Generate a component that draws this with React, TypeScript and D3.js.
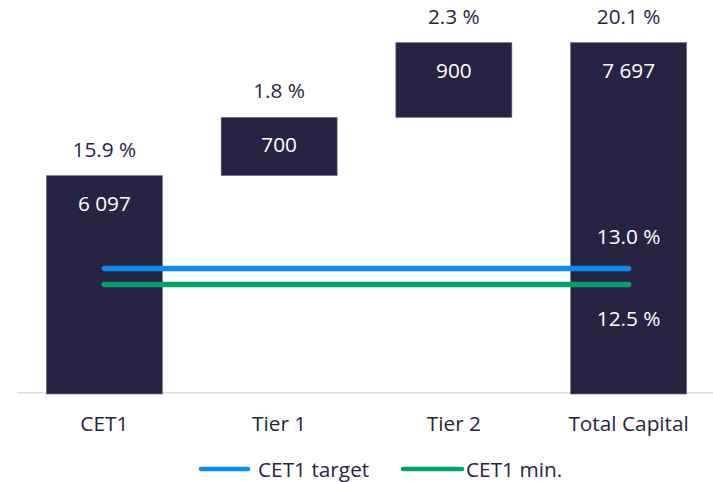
import React, { useEffect, useRef } from 'react'
import * as d3 from 'd3'

const categories = ['CET1', 'Tier 1', 'Tier 2', 'Total Capital']
const amounts = [6097, 700, 900, 7697]
const isTotal = [true, false, false, true]
const pctLabels = ['15.9 %', '1.8 %', '2.3 %', '20.1 %']
const amountLabels = ['6 097', '700', '900', '7 697']
const totalPct = 20.1
const refLines = [
  { name: 'CET1 target', pct: 13.0, label: '13.0 %', color: '#0a8cf5' },
  { name: 'CET1 min.', pct: 12.5, label: '12.5 %', color: '#00a46a' },
]

const W = 713, H = 482
const DARK = '#272443'
const FONT = '"Open Sans", "Noto Sans", sans-serif'
const FS = 20.8

export default function App() {
  const svgRef = useRef<SVGSVGElement>(null)

  useEffect(() => {
    const svg = d3.select(svgRef.current).attr('width', W).attr('height', H)
    svg.selectAll('*').remove()

    // waterfall steps
    let run = 0
    const steps = amounts.map((v, i) => {
      const start = isTotal[i] ? 0 : run
      const end = isTotal[i] ? v : run + v
      run = end
      return { cat: categories[i], start, end, pct: pctLabels[i], amt: amountLabels[i] }
    })

    const x = d3.scaleBand().domain(categories).range([17, 716]).paddingInner(0.336).paddingOuter(0.168)
    const y = d3.scaleLinear().domain([3470, 8000]).range([394, 17.4])
    const base = y.domain()[0]

    // axis line
    svg.append('line').attr('x1', 17).attr('x2', W).attr('y1', 392.7).attr('y2', 392.7)
      .attr('stroke', '#dcdbe8').attr('stroke-width', 1.5)

    const g = svg.append('g').attr('font-family', FONT).attr('font-size', FS)
    g.selectAll('rect').data(steps).join('rect')
      .attr('x', d => x(d.cat)!)
      .attr('width', x.bandwidth())
      .attr('y', d => y(d.end))
      .attr('height', d => y(Math.max(d.start, base)) - y(d.end))
      .attr('fill', DARK)
      .attr('stroke', '#6e6c86').attr('stroke-width', 0.6)

    g.selectAll('text.pct').data(steps).join('text').attr('class', 'pct')
      .attr('x', d => x(d.cat)! + x.bandwidth() / 2).attr('y', d => y(d.end) - 19)
      .attr('text-anchor', 'middle').attr('fill', DARK)
      .text(d => d.pct)

    g.selectAll('text.amt').data(steps).join('text').attr('class', 'amt')
      .attr('x', d => x(d.cat)! + x.bandwidth() / 2).attr('y', d => y(d.end) + 35)
      .attr('text-anchor', 'middle').attr('fill', '#ffffff')
      .text(d => d.amt)

    // category labels
    g.selectAll('text.cat').data(categories).join('text').attr('class', 'cat')
      .attr('x', d => x(d)! + x.bandwidth() / 2).attr('y', 431)
      .attr('text-anchor', 'middle').attr('fill', DARK)
      .text(d => d)

    // CET1 requirement lines, as share of total ratio
    const rwa = amounts[3] / (totalPct / 100)
    const x0 = x(categories[0])! + x.bandwidth() / 2
    const x1 = x(categories[3])! + x.bandwidth() / 2
    refLines.forEach((r, i) => {
      const yy = y(rwa * r.pct / 100)
      svg.append('line').attr('x1', x0).attr('x2', x1).attr('y1', yy).attr('y2', yy)
        .attr('stroke', r.color).attr('stroke-width', 5.5).attr('stroke-linecap', 'round')
      svg.append('text').attr('x', x1).attr('y', i === 0 ? yy - 25 : yy + 41)
        .attr('text-anchor', 'middle').attr('fill', '#ffffff').attr('font-size', FS).attr('font-family', FONT)
        .text(r.label)
    })

    // legend
    const legX = [200, 402]
    refLines.forEach((r, i) => {
      const lg = svg.append('g').attr('transform', `translate(${legX[i]},469)`)
      lg.append('line').attr('x1', 1).attr('x2', i === 0 ? 48 : 60).attr('stroke', r.color)
        .attr('stroke-width', 4.5).attr('stroke-linecap', 'round')
      lg.append('text').attr('x', i === 0 ? 58 : 64).attr('y', 7.5).attr('fill', DARK)
        .attr('font-size', FS).attr('font-family', FONT).text(r.name)
    })
  }, [])

  return (
    <div style={{ position: 'absolute', left: 0, top: 0, background: '#fff' }}>
      <svg ref={svgRef} />
    </div>
  )
}
